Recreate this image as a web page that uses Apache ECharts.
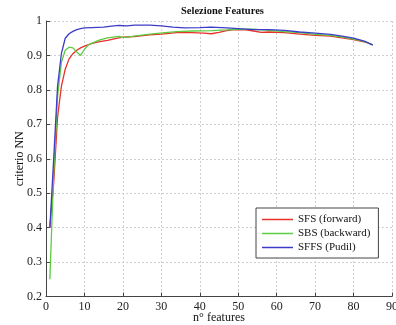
<!DOCTYPE html>
<html>
<head>
<meta charset="utf-8">
<script src="https://cdn.jsdelivr.net/npm/echarts@6/dist/echarts.min.js"></script>
<style>
  html, body { margin: 0; padding: 0; background: #fff; }
  #chart { width: 396px; height: 325px; }
</style>
</head>
<body>
<div id="chart"></div>
<script>
// [n features, criterio NN]
const sfsPoints = [
  [1, 0.40], [2, 0.53], [3, 0.72], [4, 0.81], [5, 0.86], [6, 0.89], [7, 0.905], [8, 0.915],
  [9, 0.922], [10, 0.927], [12, 0.935], [14, 0.94], [16, 0.944], [18, 0.949], [20, 0.953],
  [23, 0.955], [27, 0.960], [30, 0.962], [34, 0.966], [38, 0.966], [41, 0.965], [43, 0.963],
  [45, 0.967], [47, 0.972], [49, 0.975], [52, 0.974], [54, 0.971], [56, 0.967], [58, 0.968],
  [62, 0.966], [66, 0.962], [70, 0.958], [74, 0.956], [77, 0.951], [80, 0.946], [83, 0.939],
  [85, 0.931]
];
const sbsPoints = [
  [1, 0.25], [2, 0.56], [3, 0.78], [4, 0.88], [5, 0.915], [6, 0.924], [7, 0.922], [8, 0.91],
  [9, 0.90], [10, 0.918], [11, 0.93], [12, 0.936], [14, 0.945], [16, 0.951], [18, 0.954],
  [19, 0.955], [20, 0.952], [21, 0.953], [23, 0.956], [27, 0.962], [31, 0.966], [34, 0.969],
  [38, 0.971], [43, 0.972], [47, 0.974], [50, 0.976], [54, 0.976], [58, 0.973], [62, 0.969],
  [66, 0.966], [70, 0.961], [74, 0.958], [78, 0.952], [82, 0.943], [85, 0.931]
];
const sffsPoints = [
  [1, 0.40], [2, 0.60], [3, 0.81], [4, 0.905], [5, 0.95], [6, 0.963], [7, 0.97], [8, 0.975],
  [9, 0.978], [10, 0.98], [12, 0.981], [15, 0.982], [17, 0.985], [19, 0.987], [21, 0.986],
  [23, 0.988], [27, 0.988], [30, 0.986], [33, 0.982], [36, 0.980], [40, 0.981], [43, 0.982],
  [47, 0.980], [50, 0.978], [54, 0.975], [58, 0.975], [62, 0.973], [66, 0.968], [70, 0.965],
  [74, 0.961], [77, 0.956], [80, 0.950], [83, 0.941], [85, 0.930]
];
const seriesNames = ['SFS (forward)', 'SBS (backward)', 'SFFS (Pudil)'];
const seriesColors = ['#e8302a', '#5ccc40', '#3c3cc8'];

const font = '"Liberation Serif", "DejaVu Serif", serif';
const chart = echarts.init(document.getElementById('chart'), null, { renderer: 'canvas' });

const allPoints = [sfsPoints, sbsPoints, sffsPoints];
const series = [];
for (let i = 0; i < 3; i++) {
  series.push({
    name: seriesNames[i],
    type: 'line',
    data: allPoints[i],
    symbol: 'none',
    smooth: false,
    lineStyle: { width: 1.3, color: seriesColors[i] },
    itemStyle: { color: seriesColors[i] }
  });
}

const option = {
  animation: false,
  backgroundColor: '#fff',
  title: {
    text: 'Selezione Features',
    left: 176,
    top: 1,
    textStyle: { fontFamily: font, fontSize: 10.5, fontWeight: 'bold', color: '#111' }
  },
  grid: { left: 46, right: 4, top: 21, bottom: 28.5, containLabel: false, outerBoundsMode: 'none' },
  legend: {
    orient: 'vertical',
    left: 256,
    top: 208,
    padding: [6, 8, 5, 6],
    icon: 'rect',
    itemWidth: 31,
    itemHeight: 1.5,
    itemGap: 3,
    backgroundColor: '#fff',
    borderColor: '#444',
    borderWidth: 1,
    borderRadius: 0,
    textStyle: { fontFamily: font, fontSize: 11, color: '#111' },
    data: seriesNames
  },
  xAxis: {
    type: 'value',
    min: 0,
    max: 90,
    interval: 10,
    name: 'n° features',
    nameLocation: 'middle',
    nameGap: 15,
    nameMoveOverlap: false,
    nameTextStyle: { fontFamily: font, fontSize: 12, color: '#111' },
    axisLine: { show: true, lineStyle: { color: '#444', width: 1 } },
    axisTick: { show: true, inside: true, length: 4, lineStyle: { color: '#444' } },
    axisLabel: { fontFamily: font, fontSize: 12, color: '#222', margin: 4 },
    splitLine: { show: true, lineStyle: { color: '#d0d0d0', type: [2, 2], width: 1 } }
  },
  yAxis: {
    type: 'value',
    min: 0.2,
    max: 1,
    interval: 0.1,
    name: 'criterio NN',
    nameLocation: 'middle',
    nameGap: 20,
    nameMoveOverlap: false,
    nameTextStyle: { fontFamily: font, fontSize: 12, color: '#111' },
    axisLine: { show: true, lineStyle: { color: '#444', width: 1 } },
    axisTick: { show: true, inside: true, length: 4, lineStyle: { color: '#444' } },
    axisLabel: {
      fontFamily: font, fontSize: 12, color: '#222', margin: 4,
      formatter: v => (Math.abs(v - 1) < 1e-9 ? '1' : v.toFixed(1))
    },
    splitLine: { show: true, lineStyle: { color: '#d0d0d0', type: [2, 2], width: 1 } }
  },
  series: series
};

chart.setOption(option);
</script>
</body>
</html>
